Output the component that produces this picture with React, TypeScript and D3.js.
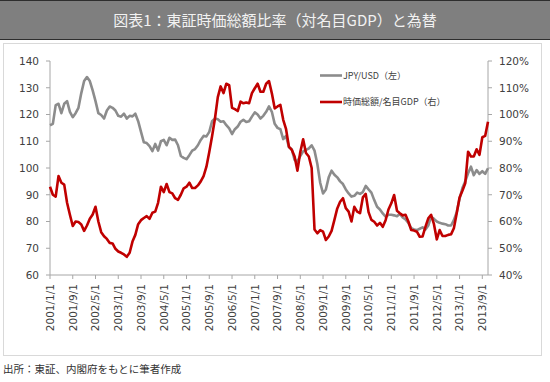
import React from "react";
import * as d3 from "d3";

const startYear = 2001;
const tickEvery = 8;

const jpyUsd = [
  116, 116.5, 123.5, 124, 120.5, 124, 125, 121, 119, 120.5, 122.5, 128,
  132.5, 134, 132.5, 129, 125, 120.5, 119.8, 118.5, 121.5, 123, 122.5, 121.5,
  119.5, 119.2, 120.3, 118.5, 119.5, 119.3, 120.3, 117.5, 113.5, 109.6, 109.3, 108.2,
  106.3, 109, 106.5, 110, 110.5, 108.5, 111.3, 110.5, 110.6, 108.5, 104.5, 103.8,
  103.3, 104.8, 106.5, 107.1, 108.5, 110.5, 112, 111.8, 113.5, 117.5, 118.5, 118.2,
  117.3, 117.5, 116, 114.8, 112.7, 114.5, 115.5, 117.3, 118, 117.2, 117.5, 119.2,
  120.8, 120, 118.5, 119.5, 121, 123, 121, 116.5, 115, 114.5, 110.8, 112,
  107.8, 107, 103, 102.5, 104.5, 106.2, 106.8, 107.3, 108.5, 106.5, 101.5, 94.5,
  90.5, 92, 96.5, 99, 97.5, 96.5, 95, 94, 92, 90.5, 89.3, 89.6,
  90.8, 90.3, 91, 93.3, 92, 90.8, 88, 85.5, 84.5, 83, 81.8, 82.5,
  82.5, 82.3, 82, 82.8, 81.5, 80.8, 79.5, 77.5, 77, 76.8, 77.3, 77.8,
  77, 78.5, 81.8, 81, 80, 79.5, 79.2, 79, 78.5, 78.5, 80.5, 83.5,
  88.5, 92.5, 95, 98, 100.5, 97.3, 99.2, 97.8, 98.8, 97.8, 99.9,
];

const capToGdp = [
  73, 70, 69.3, 77, 74.5, 73.8, 67, 62.5, 58.3, 60, 59.8, 58.9,
  56.5, 58.5, 61, 62.6, 65.5, 60, 56, 54.5, 53.5, 52, 51.8, 49.8,
  48.8, 48.3, 47.7, 46.8, 48.3, 52.5, 55, 59, 60.5, 61.3, 62, 61,
  63.3, 63.7, 67, 73, 71, 74, 71, 70.5, 68.7, 68.1, 70, 72.4,
  73, 74.5, 72.5, 72.5, 73.5, 75, 77, 80.5, 86, 92, 98.5, 106.5,
  110.5, 108, 111.5, 111, 102.5, 102, 101.3, 104.8, 104.2, 104.5, 104.2, 108,
  109.8, 111.5, 108.5, 108.5, 111.5, 112.5, 107.9, 102.3, 103, 103.6, 98, 94.5,
  88, 86.8, 84.3, 79, 86, 90.7, 85.6, 84.3, 80, 57, 55.6, 56.8,
  56.2, 53.1, 54.4, 56.5, 60.6, 64.9, 67.4, 68.7, 65, 63.7, 60, 65.5,
  63.7, 63.1, 69, 70.3, 63.5, 60.6, 59.9, 58.5, 59.5, 58, 60.5, 64.5,
  66.8, 69.9, 64, 63.1, 62.3, 62.5, 60, 56.8, 56.6, 56.2, 54.3, 54.4,
  58, 61.2, 62.5, 59, 53.3, 56.8, 54.6, 54.6, 55, 55.2, 57.5, 63.1,
  69, 71.5, 74.3, 86.1, 84.3, 84.3, 87, 84.9, 91.5, 92, 97.3,
];

const leftTicks = [60, 70, 80, 90, 100, 110, 120, 130, 140];
const rightTicks = [40, 50, 60, 70, 80, 90, 100, 110, 120];

const titleText = "図表1：東証時価総額比率（対名目GDP）と為替";
const sourceText = "出所：東証、内閣府をもとに筆者作成";
const legendJpy = "JPY/USD（左）";
const legendCap = "時価総額/名目GDP（右）";

function monthLabel(i: number) {
  const y = startYear + Math.floor(i / 12);
  const m = (i % 12) + 1;
  return `${y}/${m}/1`;
}

export default function App() {
  const W = 550, H = 382;
  const left = 50, right = 488, top = 61, bottom = 275;
  const n = jpyUsd.length;
  const x = d3.scaleLinear().domain([0, n - 1]).range([left, right]);
  const yL = d3.scaleLinear().domain([60, 140]).range([bottom, top]);
  const yR = d3.scaleLinear().domain([40, 120]).range([bottom, top]);
  const lineL = d3.line<number>().x((_, i) => x(i)).y((d) => yL(d));
  const lineR = d3.line<number>().x((_, i) => x(i)).y((d) => yR(d));
  const xTicks = d3.range(0, n, tickEvery);
  const axisColor = "#a6a6a6";
  const textColor = "#404040";
  const numFont = "'DejaVu Sans', Verdana, sans-serif";
  const cjkFont = "'Noto Sans CJK JP', 'Noto Sans', sans-serif";

  return (
    <svg width={W} height={H} style={{ position: "absolute", left: 0, top: 0, background: "#fff" }}>
      <rect x={0} y={0} width={550} height={40} fill="#7f7f7f" />
      <line x1={0} x2={550} y1={0.5} y2={0.5} stroke="#2e2e2e" />
      <line x1={0} x2={550} y1={39.5} y2={39.5} stroke="#2e2e2e" />
      <text x={275} y={26} textAnchor="middle" fill="#f2f2f2" fontSize={15} fontFamily={cjkFont}>
        {titleText}
      </text>
      <rect x={3.5} y={43.5} width={538} height={312} fill="#fff" stroke="#d9d9d9" strokeWidth={1} />

      {/* axes */}
      <line x1={left} x2={left} y1={top} y2={bottom} stroke={axisColor} />
      <line x1={right} x2={right} y1={top} y2={bottom} stroke={axisColor} />
      <line x1={left} x2={right} y1={bottom} y2={bottom} stroke={axisColor} />
      {leftTicks.map((t) => (
        <g key={"l" + t}>
          <line x1={left - 4} x2={left} y1={yL(t)} y2={yL(t)} stroke={axisColor} />
          <text x={39} y={yL(t)} dy="0.36em" textAnchor="end" fontSize={10.5} fill={textColor} fontFamily={numFont}>
            {t}
          </text>
        </g>
      ))}
      {rightTicks.map((t) => (
        <g key={"r" + t}>
          <line x1={right} x2={right + 4} y1={yR(t)} y2={yR(t)} stroke={axisColor} />
          <text x={499} y={yR(t)} dy="0.36em" textAnchor="start" fontSize={10.5} fill={textColor} fontFamily={numFont}>
            {t}%
          </text>
        </g>
      ))}
      {xTicks.map((i) => (
        <g key={"x" + i}>
          <line x1={x(i)} x2={x(i)} y1={bottom} y2={bottom + 4} stroke={axisColor} />
          <text
            transform={`translate(${x(i)},${bottom + 9}) rotate(-90)`}
            dy="0.36em"
            textAnchor="end"
            fontSize={10.5}
            fill={textColor}
            fontFamily={numFont}
          >
            {monthLabel(i)}
          </text>
        </g>
      ))}

      <path d={lineL(jpyUsd) || ""} fill="none" stroke="#8c8c8c" strokeWidth={2.6} strokeLinejoin="round" />
      <path d={lineR(capToGdp) || ""} fill="none" stroke="#c00000" strokeWidth={2.6} strokeLinejoin="round" />

      {/* legend */}
      <line x1={320} x2={342} y1={75.5} y2={75.5} stroke="#8c8c8c" strokeWidth={2.6} />
      <text x={343} y={75.5} dy="0.36em" fontSize={9} fill={textColor} fontFamily={cjkFont}>
        {legendJpy}
      </text>
      <line x1={320} x2={342} y1={102} y2={102} stroke="#c00000" strokeWidth={2.6} />
      <text x={343} y={102} dy="0.36em" fontSize={9} fill={textColor} fontFamily={cjkFont}>
        {legendCap}
      </text>

      <text x={3} y={373} fontSize={10.5} fill="#333" fontFamily={cjkFont}>
        {sourceText}
      </text>
    </svg>
  );
}
